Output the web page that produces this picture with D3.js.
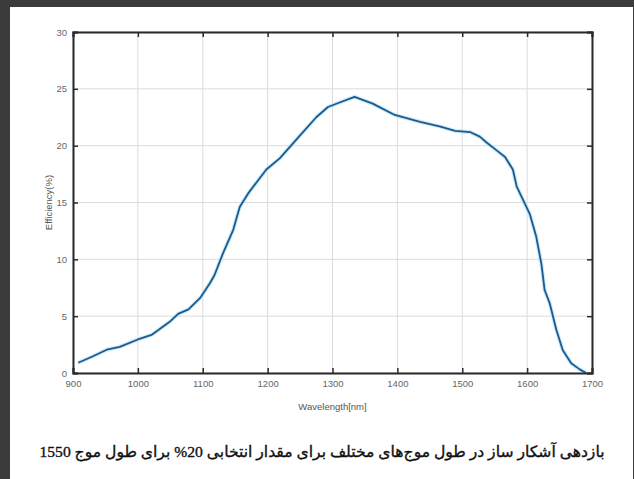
<!DOCTYPE html>
<html>
<head>
<meta charset="utf-8">
<script src="https://cdn.jsdelivr.net/npm/d3@7"></script>
<style>
html,body{margin:0;padding:0;background:#fff;}
svg{display:block;}
</style>
</head>
<body>
<svg id="chart" width="634" height="479"></svg>
<script>
const wavelength = [908, 930, 952, 972, 1000, 1021, 1049, 1062, 1078, 1096, 1111, 1118, 1131, 1147, 1157, 1170, 1198, 1219, 1250, 1275, 1293, 1311, 1334, 1362, 1396, 1435, 1465, 1489, 1512, 1527, 1537, 1555, 1566, 1578, 1584, 1604, 1614, 1622, 1627, 1635, 1645, 1655, 1668, 1681, 1691];
const efficiency = [0.9, 1.45, 2.05, 2.3, 2.95, 3.35, 4.5, 5.2, 5.6, 6.6, 7.9, 8.6, 10.5, 12.6, 14.6, 15.8, 17.9, 18.9, 20.9, 22.5, 23.4, 23.8, 24.3, 23.7, 22.7, 22.1, 21.7, 21.3, 21.2, 20.8, 20.3, 19.5, 19.0, 17.9, 16.4, 14.0, 12.0, 9.6, 7.3, 6.1, 3.8, 2.0, 0.85, 0.32, 0.0];
const xTicks = [900, 1000, 1100, 1200, 1300, 1400, 1500, 1600, 1700];
const yTicks = [0, 5, 10, 15, 20, 25, 30];
const xLabel = "Wavelength[nm]";
const yLabel = "Efficiency(%)";
const caption = "بازدهی آشکار ساز در طول موج‌های مختلف برای مقدار انتخابی \u2066%20\u2069 برای طول موج 1550";

const svg = d3.select("#chart");
const W = 634, H = 479;
const m = {left: 73, right: 634 - 592, top: 32, bottom: 479 - 373};

// frame
svg.append("rect").attr("x",0).attr("y",0).attr("width",W).attr("height",H).attr("fill","#3b3b3b");
svg.append("rect").attr("x",10).attr("y",7).attr("width",W-11).attr("height",H-7).attr("fill","#fff");

const x = d3.scaleLinear().domain([900,1700]).range([m.left, W - m.right]);
const y = d3.scaleLinear().domain([0,30]).range([H - m.bottom, m.top]);

const tickFont = "'Liberation Sans Narrow','Liberation Sans',Arial,sans-serif";

// grid
svg.append("g").selectAll("line").data(xTicks).join("line")
  .attr("x1",d=>x(d)).attr("x2",d=>x(d)).attr("y1",y(0)).attr("y2",y(30))
  .attr("stroke","#dcdcdc").attr("stroke-width",1);
svg.append("g").selectAll("line").data(yTicks).join("line")
  .attr("x1",x(900)).attr("x2",x(1700)).attr("y1",d=>y(d)).attr("y2",d=>y(d))
  .attr("stroke","#dcdcdc").attr("stroke-width",1);

// line
const line = d3.line().x((d,i)=>x(wavelength[i])).y(d=>y(d));
svg.append("path").datum(efficiency).attr("d",line)
  .attr("fill","none").attr("stroke","#a9dcf5").attr("stroke-width",4).attr("stroke-opacity",0.6)
  .attr("stroke-linejoin","round");
svg.append("path").datum(efficiency).attr("d",line)
  .attr("fill","none").attr("stroke","#1c5a8e").attr("stroke-width",1.8)
  .attr("stroke-linejoin","round");

// axes (ticks inward)
const axB = svg.append("g").attr("transform",`translate(0,${y(0)})`)
  .call(d3.axisBottom(x).tickValues(xTicks).tickSize(-5).tickPadding(9).tickFormat(d3.format("d")));
const axT = svg.append("g").attr("transform",`translate(0,${y(30)})`)
  .call(d3.axisTop(x).tickValues(xTicks).tickSize(-5).tickFormat(""));
const axL = svg.append("g").attr("transform",`translate(${x(900)},0)`)
  .call(d3.axisLeft(y).tickValues(yTicks).tickSize(-5).tickPadding(6));
const axR = svg.append("g").attr("transform",`translate(${x(1700)},0)`)
  .call(d3.axisRight(y).tickValues(yTicks).tickSize(-5).tickFormat(""));

[axB,axT,axL,axR].forEach(g=>{
  g.select(".domain").attr("stroke","#2a2a2a").attr("stroke-width",2);
  g.selectAll(".tick line").attr("stroke","#2a2a2a").attr("stroke-width",1.5);
  g.selectAll("text").attr("fill","#666").attr("font-size",9.5).attr("font-family",tickFont);
});
axB.selectAll(".tick text").attr("dy","0.5em");

// axis labels
svg.append("text").attr("x",(x(900)+x(1700))/2).attr("y",410)
  .attr("text-anchor","middle").attr("font-size",9.5).attr("font-family",tickFont)
  .attr("fill","#555").text(xLabel);
svg.append("text").attr("transform",`translate(52,${(y(0)+y(30))/2}) rotate(-90)`)
  .attr("text-anchor","middle").attr("font-size",9.5).attr("font-family",tickFont)
  .attr("fill","#555").text(yLabel);

// caption
svg.append("text").attr("x",322).attr("y",457)
  .attr("text-anchor","middle").attr("direction","rtl")
  .attr("font-size",15.5)
  .attr("stroke","#111").attr("stroke-width",0.35)
  .attr("textLength",565).attr("lengthAdjust","spacingAndGlyphs")
  .attr("font-family","'Liberation Serif','DejaVu Serif','DejaVu Sans',serif")
  .attr("fill","#111").text(caption);
</script>
</body>
</html>
